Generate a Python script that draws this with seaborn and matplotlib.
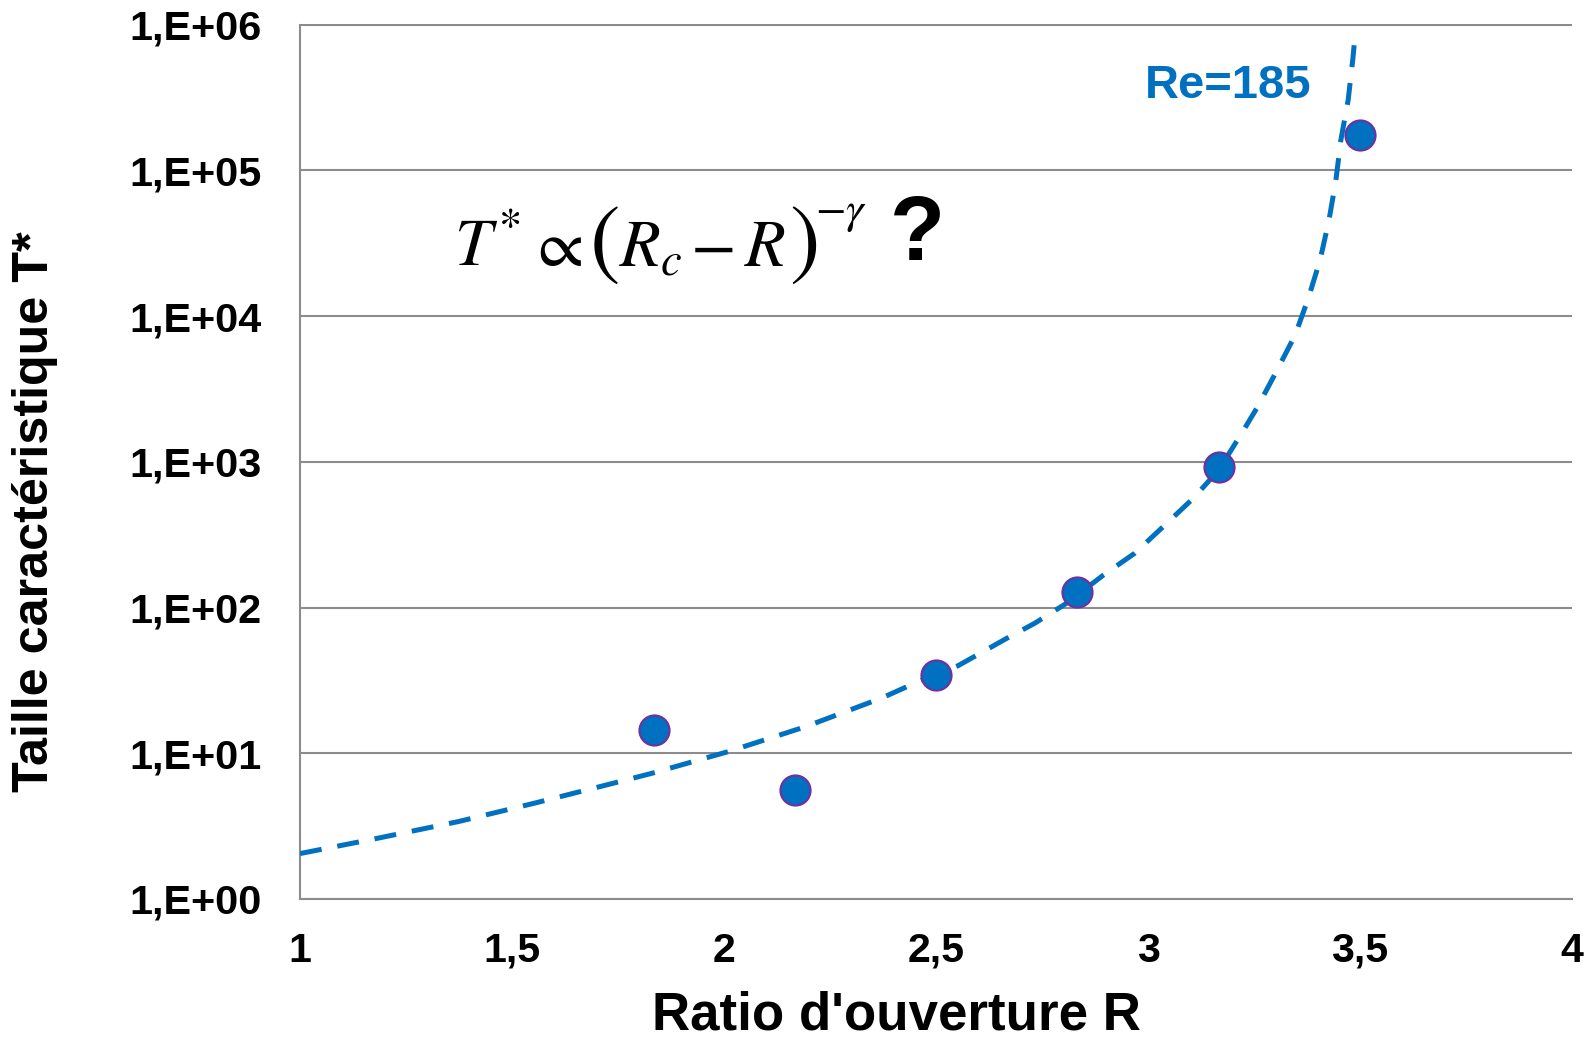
import matplotlib
matplotlib.use("Agg")
import matplotlib.pyplot as plt
import seaborn as sns
import pandas as pd
from matplotlib.ticker import FixedLocator, FixedFormatter, NullLocator

# Measured points
ratio_R = [1.834, 2.167, 2.5, 2.833, 3.167, 3.5]
taille_T = [14.5, 5.6, 34.5, 128, 927, 175000]

# Fitted dashed curve
fit_R = [1.0, 1.18, 1.374, 1.555, 1.741, 1.831, 2.012, 2.192, 2.373, 2.458, 2.553,
         2.667, 2.733, 2.808, 2.895, 2.969, 3.036, 3.107, 3.167, 3.221, 3.257, 3.303,
         3.347, 3.378, 3.406, 3.427, 3.443, 3.455, 3.472, 3.483, 3.487]
fit_T = [2.05, 2.6, 3.4, 4.56, 6.25, 7.3, 10.3, 15.2, 24, 31, 40,
         61.5, 78, 107, 167, 236, 359, 562, 880, 1570, 2340, 4170,
         7400, 13200, 24300, 45700, 85000, 162000, 302000, 575000, 766000]

y_ticks = [1, 10, 100, 1e3, 1e4, 1e5, 1e6]
y_tick_labels = ["1,E+00", "1,E+01", "1,E+02", "1,E+03", "1,E+04", "1,E+05", "1,E+06"]
x_ticks = [1, 1.5, 2, 2.5, 3, 3.5, 4]
x_tick_labels = ["1", "1,5", "2", "2,5", "3", "3,5", "4"]

sns.set_style("white")
plt.rcParams["font.family"] = ["Liberation Sans", "DejaVu Sans"]
plt.rcParams["mathtext.fontset"] = "stix"
for k in ["text.color", "axes.labelcolor", "xtick.color", "ytick.color"]:
    plt.rcParams[k] = "black"

blue = "#0070C0"
purple = "#7030A0"
grid_c = "#8C8C8C"

W, H = 1592, 1042
fig = plt.figure(figsize=(W / 100, H / 100), dpi=100)
ax_l, ax_r, ax_t, ax_b = 300, 1572, 24.5, 899
ax = fig.add_axes([ax_l / W, 1 - ax_b / H, (ax_r - ax_l) / W, (ax_b - ax_t) / H])

df_fit = pd.DataFrame({"R": fit_R, "T": fit_T})
df_pts = pd.DataFrame({"R": ratio_R, "T": taille_T})

sns.lineplot(data=df_fit, x="R", y="T", ax=ax, color=blue, lw=3.6,
             linestyle=(0, (4.4, 3.2)), zorder=3, sort=False)
sns.scatterplot(data=df_pts, x="R", y="T", ax=ax, color=blue, s=470,
                edgecolor=purple, linewidth=1.5, zorder=4)

ax.set_yscale("log")
ax.set_xlim(1, 4)
ax.set_ylim(1, 1e6)
ax.yaxis.set_major_locator(FixedLocator(y_ticks))
ax.yaxis.set_major_formatter(FixedFormatter(y_tick_labels))
ax.yaxis.set_minor_locator(NullLocator())
ax.xaxis.set_major_locator(FixedLocator(x_ticks))
ax.xaxis.set_major_formatter(FixedFormatter(x_tick_labels))

ax.grid(axis="y", color=grid_c, lw=1.5)
ax.grid(axis="x", visible=False)
ax.set_axisbelow(True)
for s in ["top", "right"]:
    ax.spines[s].set_visible(False)
for s in ["left", "bottom"]:
    ax.spines[s].set_color(grid_c)
    ax.spines[s].set_linewidth(1.5)

ax.tick_params(axis="both", length=0)
ax.tick_params(axis="y", pad=38 * 0.72, labelsize=29)
ax.tick_params(axis="x", pad=52 * 0.72, labelsize=30)
for lab in ax.get_yticklabels():
    lab.set_fontweight("bold")
for lab in ax.get_xticklabels():
    lab.set_fontweight("bold")
    lab.set_verticalalignment("center")

ax.set_xlabel("Ratio d'ouverture R", fontsize=38, fontweight="bold")
ax.xaxis.set_label_coords((896.6 - ax_l) / (ax_r - ax_l), (ax_b - 1016) / (ax_b - ax_t))
ax.xaxis.label.set_verticalalignment("center")
ax.set_ylabel("Taille caractéristique T*", fontsize=36, fontweight="bold")
ax.yaxis.set_label_coords((35.5 - ax_l) / (ax_r - ax_l), (ax_b - 511.7) / (ax_b - ax_t))
ax.yaxis.label.set_verticalalignment("center")
ax.yaxis.label.set_horizontalalignment("center")

re_txt = fig.text(1228 / W, 1 - 86 / H, "Re=185", color=blue, fontsize=34,
                  fontweight="bold", ha="center", va="center")


def fx(px):
    return px / W


def fy(py):
    return 1 - py / H


base = 266
fig.text(fx(454), fy(base), r"$T^{*}$", fontsize=48, ha="left", va="baseline")
fig.text(fx(528), fy(base), r"$\propto$", fontsize=48, ha="left", va="baseline")
fig.text(fx(589), fy(243.5), r"$($", fontsize=66, ha="left", va="center")
fig.text(fx(619), fy(base), r"$R_c$", fontsize=48, ha="left", va="baseline")
fig.text(fx(690), fy(base), r"$-$", fontsize=48, ha="left", va="baseline")
fig.text(fx(744), fy(base), r"$R$", fontsize=48, ha="left", va="baseline")
fig.text(fx(789), fy(243.5), r"$)$", fontsize=66, ha="left", va="center")
fig.text(fx(815), fy(214), r"$-\gamma$", fontsize=32, ha="left", va="center")
fig.text(fx(917), fy(236.6), "?", fontsize=65, fontweight="bold", ha="center", va="center")

# Fit text sizes to the widths measured on the reference (pixels)
fig.canvas.draw()
r = fig.canvas.get_renderer()


def fit(t, target, horizontal=True):
    bb = t.get_window_extent(r)
    cur = bb.width if horizontal else bb.height
    if cur > 0:
        t.set_fontsize(t.get_fontsize() * target / cur)


fit(ax.xaxis.label, 487)
fit(ax.yaxis.label, 560, horizontal=False)
fit(re_txt, 167)
xl = ax.get_xticklabels()
bb = xl[1].get_window_extent(r)
xscale = 57 / bb.width if bb.width > 0 else 1
yl = ax.get_yticklabels()
bb = yl[-1].get_window_extent(r)
yscale = 132 / bb.width if bb.width > 0 else 1
ax.tick_params(axis="x", labelsize=30 * xscale)
ax.tick_params(axis="y", labelsize=29 * yscale)

fig.savefig("out.png", dpi=100)
